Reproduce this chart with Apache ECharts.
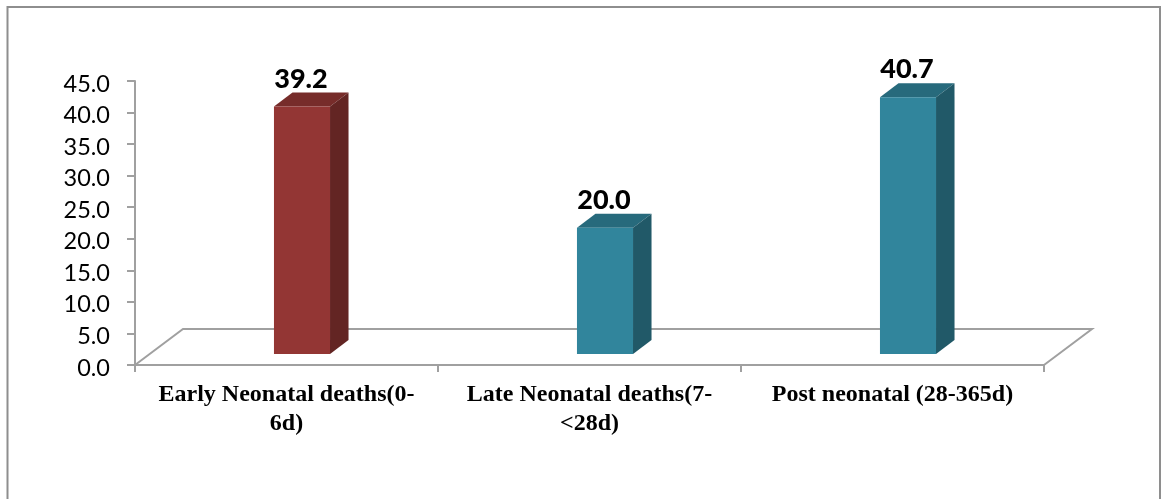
<!DOCTYPE html>
<html>
<head>
<meta charset="utf-8">
<style>html,body{margin:0;padding:0;background:#fff}#c{width:1161px;height:499px}</style>
<script src="https://cdn.jsdelivr.net/npm/echarts@6/dist/echarts.min.js"></script>
</head>
<body>
<div id="c"></div>
<script>
const categories = ["Early Neonatal deaths(0-\n6d)", "Late Neonatal deaths(7-\n<28d)", "Post neonatal (28-365d)"];
const values = [39.2, 20.0, 40.7];
const fronts = ["#933634", "#31859c", "#31859c"];
const sides = ["#632523", "#215968", "#215968"];
const tops = ["#772c2a", "#276a7c", "#276a7c"];

const floorDx = 48, floorDy = 36, barDx = 15.5, barDy = 11, depthX = 18.5, depthY = 14;
const gray = "#a0a0a0";

const chart = echarts.init(document.getElementById("c"), null, {renderer: "canvas"});
chart.setOption({
  animation: false,
  backgroundColor: "#fff",
  graphic: [{
    type: "polyline", silent: true,
    shape: {points: [[7.5, 499], [7.5, 7], [1160, 7], [1160, 499]]},
    style: {fill: null, stroke: "#8e8e8e", lineWidth: 2}
  }],
  grid: {left: 135, right: 117, top: 81, bottom: 134},
  xAxis: {
    type: "category", data: categories,
    axisLine: {lineStyle: {color: gray, width: 2}},
    axisTick: {show: true, length: 7, lineStyle: {color: gray, width: 2}},
    axisLabel: {interval: 0, margin: 15, fontFamily: "Liberation Serif", fontWeight: "bold", fontSize: 24, lineHeight: 29, color: "#000"}
  },
  yAxis: {
    type: "value", min: 0, max: 45, interval: 5,
    splitLine: {show: false},
    axisLine: {show: true, lineStyle: {color: gray, width: 2}},
    axisTick: {show: true, length: 8, lineStyle: {color: gray, width: 2}},
    axisLabel: {margin: 25, fontFamily: "Lato", fontSize: 23.5, color: "#000", verticalAlign: "top", lineHeight: 6, formatter: v => v.toFixed(1)}
  },
  series: [
    {
      type: "custom", silent: true, z: 1, data: [0],
      renderItem(params, api) {
        const g = params.coordSys;
        const b = g.y + g.height;
        return {
          type: "polyline",
          shape: {points: [[g.x, b], [g.x + floorDx, b - floorDy], [g.x + g.width + floorDx, b - floorDy], [g.x + g.width, b]]},
          style: {fill: null, stroke: gray, lineWidth: 2}
        };
      }
    },
    {
      type: "custom", silent: true, z: 3,
      data: values.map((v, i) => [i, v]),
      renderItem(params, api) {
        const i = api.value(0);
        const v = api.value(1);
        const w = api.size([1, 0])[0] * 0.185;
        const c = api.coord([i, v]);
        const z = api.coord([i, 0]);
        const l = c[0] + barDx - w / 2, r = l + w;
        const t = c[1] - barDy, b = z[1] - barDy;
        return {
          type: "group",
          children: [
            {type: "polygon", shape: {points: [[l, t], [l + depthX, t - depthY], [r + depthX, t - depthY], [r, t]]}, style: {fill: tops[i]}},
            {type: "polygon", shape: {points: [[r, t], [r + depthX, t - depthY], [r + depthX, b - depthY], [r, b]]}, style: {fill: sides[i]}},
            {type: "rect", shape: {x: l, y: t, width: w, height: b - t}, style: {fill: fronts[i]}},
            {type: "text", style: {
              text: v.toFixed(1), x: (l + r) / 2 - 1, y: t - depthY, align: "center", verticalAlign: "bottom",
              font: "900 27px Lato", fill: "#000"
            }}
          ]
        };
      }
    }
  ]
});
</script>
</body>
</html>
